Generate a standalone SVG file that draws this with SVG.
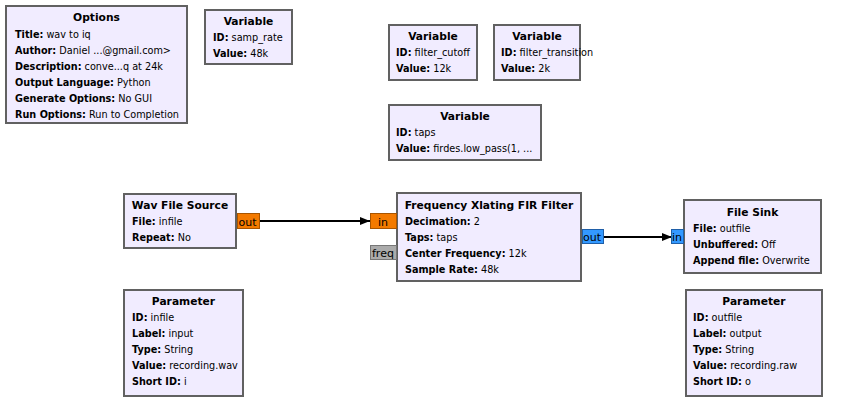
<svg xmlns="http://www.w3.org/2000/svg" width="843" height="406" viewBox="0 0 843 406">
<style>
.blk{fill:#F1ECFF;stroke:#616161;stroke-width:2}
text{font-family:"DejaVu Sans",sans-serif;fill:#000}
.t{font-size:10.7px;font-weight:bold;text-anchor:middle}
.p{font-size:9.7px}
.k{font-weight:bold}
.pl{font-size:11px}
.fo{fill:#F37A00;stroke:#A85500;stroke-width:1}
.cb{fill:#3399FF;stroke:#1F5FA8;stroke-width:1}
.ms{fill:#ABABAB;stroke:#777;stroke-width:1}
.w{stroke:#000;stroke-width:2;fill:none}
</style>
<defs>
<marker id="ah" markerWidth="10" markerHeight="8" refX="10" refY="4" orient="auto" markerUnits="userSpaceOnUse">
<path d="M0,0 L10,4 L0,8 z" fill="#000"/>
</marker>
</defs>
<rect width="843" height="406" fill="#fff"/>
<g id="connectors">
<line class="w" x1="260" y1="221" x2="370" y2="221" marker-end="url(#ah)"/>
<line class="w" x1="604" y1="237" x2="672" y2="237" marker-end="url(#ah)"/>
</g>
<g id="options">
<rect class="blk" x="6" y="6" width="181" height="117"/>
<text class="t" x="96.5" y="21">Options</text>
<text class="p" x="15" y="37.5"><tspan class="k">Title:</tspan> wav to iq</text>
<text class="p" x="15" y="53.5"><tspan class="k">Author:</tspan> Daniel ...@gmail.com&gt;</text>
<text class="p" x="15" y="69.5"><tspan class="k">Description:</tspan> conve...q at 24k</text>
<text class="p" x="15" y="85.5"><tspan class="k">Output Language:</tspan> Python</text>
<text class="p" x="15" y="101.5"><tspan class="k">Generate Options:</tspan> No GUI</text>
<text class="p" x="15" y="117.5"><tspan class="k">Run Options:</tspan> Run to Completion</text>
</g>
<g id="var_samp_rate">
<rect class="blk" x="205" y="10" width="87" height="54"/>
<text class="t" x="248.5" y="25">Variable</text>
<text class="p" x="213" y="41"><tspan class="k">ID:</tspan> samp_rate</text>
<text class="p" x="213" y="56.5"><tspan class="k">Value:</tspan> 48k</text>
</g>
<g id="var_filter_cutoff">
<rect class="blk" x="389" y="25" width="88" height="55"/>
<text class="t" x="433" y="40">Variable</text>
<text class="p" x="396" y="56"><tspan class="k">ID:</tspan> filter_cutoff</text>
<text class="p" x="396" y="72"><tspan class="k">Value:</tspan> 12k</text>
</g>
<g id="var_filter_transition">
<rect class="blk" x="494" y="25" width="86" height="55"/>
<text class="t" x="537" y="40">Variable</text>
<text class="p" x="501" y="56"><tspan class="k">ID:</tspan> filter_transition</text>
<text class="p" x="501" y="72"><tspan class="k">Value:</tspan> 2k</text>
</g>
<g id="var_taps">
<rect class="blk" x="389" y="105" width="152" height="55"/>
<text class="t" x="465" y="120">Variable</text>
<text class="p" x="396" y="136"><tspan class="k">ID:</tspan> taps</text>
<text class="p" x="396" y="152"><tspan class="k">Value:</tspan> firdes.low_pass(1, ...</text>
</g>
<g id="wav_source">
<rect class="blk" x="124" y="194" width="112" height="54"/>
<text class="t" x="180" y="209">Wav File Source</text>
<text class="p" x="132" y="225"><tspan class="k">File:</tspan> infile</text>
<text class="p" x="132" y="241"><tspan class="k">Repeat:</tspan> No</text>
<rect class="fo" x="237.5" y="213.5" width="22" height="15"/>
<text class="pl" x="238.5" y="225.5">out</text>
</g>
<g id="freq_xlating">
<rect class="blk" x="397" y="193" width="184" height="88"/>
<text class="t" x="489" y="209">Frequency Xlating FIR Filter</text>
<text class="p" x="405" y="224.5"><tspan class="k">Decimation:</tspan> 2</text>
<text class="p" x="405" y="241"><tspan class="k">Taps:</tspan> taps</text>
<text class="p" x="405" y="257"><tspan class="k">Center Frequency:</tspan> 12k</text>
<text class="p" x="405" y="272.5"><tspan class="k">Sample Rate:</tspan> 48k</text>
<rect class="fo" x="370.5" y="213.5" width="26" height="15"/>
<text class="pl" x="378" y="225.5">in</text>
<rect class="ms" x="370.5" y="245.5" width="26" height="14"/>
<text class="pl" x="372" y="257">freq</text>
<rect class="cb" x="582.5" y="229.5" width="21" height="14"/>
<text class="pl" x="583" y="241">out</text>
</g>
<g id="file_sink">
<rect class="blk" x="684" y="200" width="137" height="73"/>
<text class="t" x="752.5" y="216">File Sink</text>
<text class="p" x="693" y="232"><tspan class="k">File:</tspan> outfile</text>
<text class="p" x="693" y="248"><tspan class="k">Unbuffered:</tspan> Off</text>
<text class="p" x="693" y="264"><tspan class="k">Append file:</tspan> Overwrite</text>
<rect class="cb" x="671.5" y="229.5" width="12" height="14"/>
<text class="pl" x="672" y="241">in</text>
</g>
<g id="param_infile">
<rect class="blk" x="124" y="290" width="119" height="106"/>
<text class="t" x="183.5" y="305">Parameter</text>
<text class="p" x="132" y="321"><tspan class="k">ID:</tspan> infile</text>
<text class="p" x="132" y="337"><tspan class="k">Label:</tspan> input</text>
<text class="p" x="132" y="353"><tspan class="k">Type:</tspan> String</text>
<text class="p" x="132" y="369"><tspan class="k">Value:</tspan> recording.wav</text>
<text class="p" x="132" y="385"><tspan class="k">Short ID:</tspan> i</text>
</g>
<g id="param_outfile">
<rect class="blk" x="686" y="290" width="136" height="106"/>
<text class="t" x="754" y="305">Parameter</text>
<text class="p" x="693" y="321"><tspan class="k">ID:</tspan> outfile</text>
<text class="p" x="693" y="337"><tspan class="k">Label:</tspan> output</text>
<text class="p" x="693" y="353"><tspan class="k">Type:</tspan> String</text>
<text class="p" x="693" y="369"><tspan class="k">Value:</tspan> recording.raw</text>
<text class="p" x="693" y="385"><tspan class="k">Short ID:</tspan> o</text>
</g>
</svg>
